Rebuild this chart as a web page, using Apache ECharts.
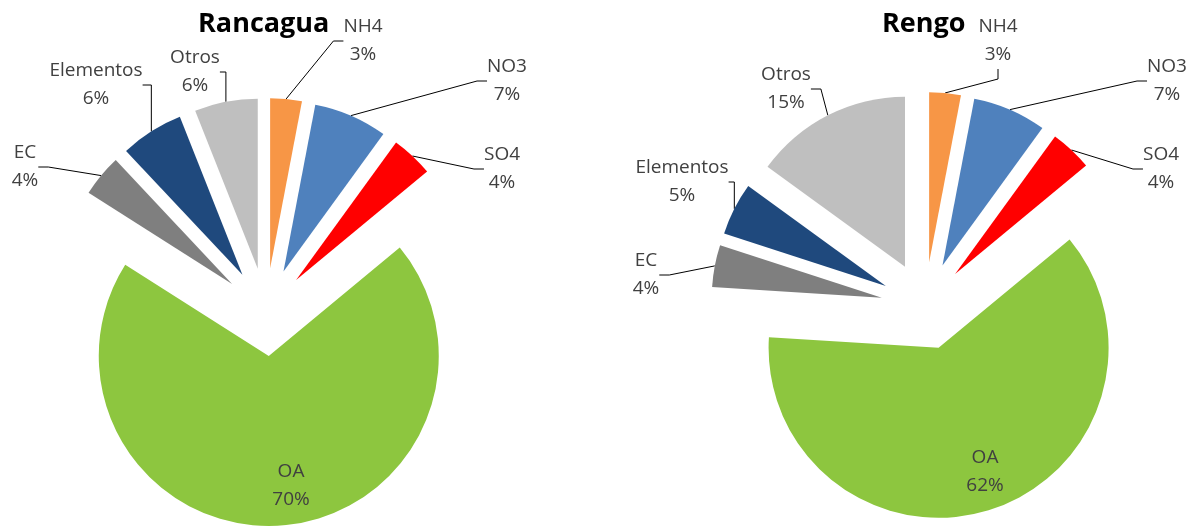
<!DOCTYPE html>
<html>
<head>
<meta charset="utf-8">
<title>Composición PM2.5 — Rancagua y Rengo</title>
<script src="https://cdn.jsdelivr.net/npm/echarts@6/dist/echarts.min.js"></script>
<style>
  html, body { margin: 0; padding: 0; background: #ffffff; }
  #chart { width: 1197px; height: 526px; }
</style>
</head>
<body>
<div id="chart"></div>
<script>
// Species shares (%) for each monitoring site, clockwise from 12 o'clock
const components = ['NH4', 'NO3', 'SO4', 'OA', 'EC', 'Elementos', 'Otros'];
const rancaguaValues = [3, 7, 4, 70, 4, 6, 6];
const rengoValues = [3, 7, 4, 62, 4, 5, 15];
const stations = ['Rancagua', 'Rengo'];

// ---- styling ----
const sliceColors = {
  NH4: '#F79646', NO3: '#4F81BD', SO4: '#FF0000', OA: '#8DC63F',
  EC: '#7F7F7F', Elementos: '#1F497D', Otros: '#BFBFBF'
};
const FONT = '"Open Sans", "Noto Sans", sans-serif';
const pieCenters = [[266, 312], [925, 306]];
const pieRadius = 170;
const explode = 44;            // distance every slice is pulled out from the centre
const titleLeft = [198, 882];

// label block centre, relative to each pie centre
const labelOffsets = [
  { NH4: [97, -271], NO3: [241, -231], SO4: [236, -143], OA: [25, 174],
    EC: [-241, -145], Elementos: [-170, -227], Otros: [-71, -240] },
  { NH4: [73, -265], NO3: [242, -225], SO4: [236, -137], OA: [60, 166],
    EC: [-279, -31], Elementos: [-243, -124], Otros: [-139, -217] }
];

// One pie series per slice: the whole dataset is laid out every time so the
// angles come from the pie layout, but only slice k is drawn, with its centre
// pushed out along the slice bisector (an "exploded" pie).
function sliceSeries(values, s, k) {
  const [cx, cy] = pieCenters[s];
  const total = values.reduce((a, b) => a + b, 0);
  const before = values.slice(0, k).reduce((a, b) => a + b, 0);
  const midFrac = (before + values[k] / 2) / total;
  const midAngle = Math.PI / 2 - midFrac * 2 * Math.PI;   // clockwise from top
  const ox = cx + Math.cos(midAngle) * explode;
  const oy = cy - Math.sin(midAngle) * explode;
  const name = components[k];
  const isInside = name === 'OA';
  return {
    type: 'pie',
    name: stations[s] + ' ' + name,
    center: [ox, oy],
    radius: [0, pieRadius],
    startAngle: 90,
    clockwise: true,
    avoidLabelOverlap: false,
    silent: true,
    data: components.map((n, i) => i === k ? {
      name: n,
      value: values[i],
      itemStyle: { color: sliceColors[n] },
      labelLine: { show: !isInside }
    } : {
      name: n,
      value: values[i],
      itemStyle: { color: 'rgba(0,0,0,0)' },
      label: { show: false },
      labelLine: { show: false }
    }),
    label: {
      show: true,
      position: 'outside',
      formatter: p => p.name + '\n' + Math.round(p.percent) + '%',
      color: '#404040',
      fontFamily: FONT,
      fontSize: 19,
      lineHeight: 28,
      align: 'center'
    },
    labelLine: {
      show: true,
      length: 10,
      length2: 10,
      lineStyle: { color: '#000000', width: 1 }
    },
    labelLayout: function (params) {
      if (params.dataIndex !== k) return {};
      const off = labelOffsets[s][components[k]];
      return {
        x: cx + off[0],
        y: cy + off[1],
        align: 'center',
        verticalAlign: 'middle'
      };
    },
    emphasis: { disabled: true }
  };
}

const series = [];
[rancaguaValues, rengoValues].forEach((vals, s) => {
  components.forEach((_, k) => series.push(sliceSeries(vals, s, k)));
});

const chart = echarts.init(document.getElementById('chart'), null, { renderer: 'canvas' });
chart.setOption({
  animation: false,
  backgroundColor: '#ffffff',
  title: stations.map((t, s) => ({
    text: t,
    left: titleLeft[s],
    top: 11,
    padding: 0,
    textStyle: { fontFamily: FONT, fontSize: 27, fontWeight: 'bold', color: '#000000' }
  })),
  series: series
});
</script>
</body>
</html>
